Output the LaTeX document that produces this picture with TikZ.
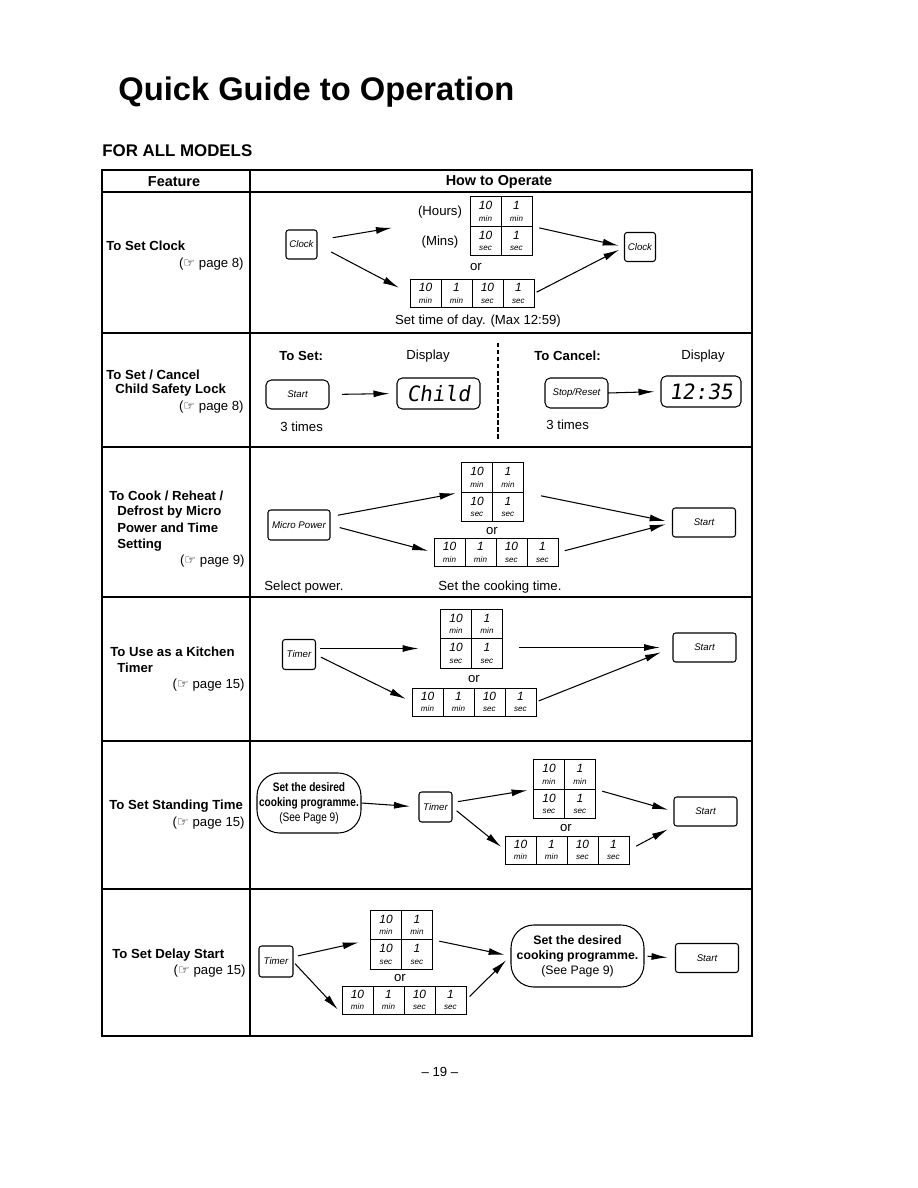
\documentclass[tikz,border=0pt]{standalone}
\usepackage{fontspec}
\setmainfont{Liberation Sans}
\newfontfamily\symfont{DejaVu Sans}
\newfontfamily\lcdfont{DejaVu Sans Mono}[FakeSlant=0.15]
\newfontfamily\narrowfont{Liberation Sans}[FakeStretch=0.82]
\usetikzlibrary{positioning, arrows.meta}

% key label: number over unit
\newcommand{\kl}[2]{{\fontsize{6.8}{6}\selectfont\itshape #1}\\[-2.5pt]{\fontsize{4.6}{5}\selectfont\itshape #2}}
\newcommand{\seepg}[1]{({\symfont\fontsize{7.5}{8}\selectfont ☞} page #1)}

% 2 x 2 block of time keys
\newcommand{\timegrid}[2]{%
\node[keycell] (#1a) at (#2) {\kl{10}{min}};
\node[keycell, right=0pt of #1a] (#1b) {\kl{1}{min}};
\node[keycell, below=0pt of #1a] (#1c) {\kl{10}{sec}};
\node[keycell, below=0pt of #1b] (#1d) {\kl{1}{sec}};}

% row of four time keys
\newcommand{\timestrip}[2]{%
\node[keycell, minimum height=0.56cm] (#1a) at (#2) {\kl{10}{min}};
\node[keycell, minimum height=0.56cm, right=0pt of #1a] (#1b) {\kl{1}{min}};
\node[keycell, minimum height=0.56cm, right=0pt of #1b] (#1c) {\kl{10}{sec}};
\node[keycell, minimum height=0.56cm, right=0pt of #1c] (#1d) {\kl{1}{sec}};}

\begin{document}
\begin{tikzpicture}[x=0.02cm, y=-0.02cm, line width=0.6pt,
  font=\fontsize{7.5}{9}\selectfont,
  feat/.style={anchor=west, font=\fontsize{7.5}{9}\selectfont\bfseries},
  key/.style={draw, rounded corners=1.5pt, inner sep=0pt, outer sep=0pt,
    minimum width=0.62cm, minimum height=0.58cm,
    font=\fontsize{5.5}{6}\selectfont\itshape},
  keycell/.style={draw, minimum width=0.62cm, minimum height=0.59cm,
    inner sep=0pt, outer sep=0pt, align=center, line width=0.5pt},
  lcd/.style={draw, rounded corners=3pt, minimum height=0.62cm,
    font=\lcdfont\fontsize{12}{12}\selectfont},
  prog/.style={draw, rounded corners=13pt, align=center, inner sep=1pt,
    font=\fontsize{7}{8.5}\selectfont},
  arr/.style={-{Latex[length=3.2mm,width=1.4mm]}}]

\useasboundingbox (0,0) rectangle (918,1188);

\node[anchor=west, font=\fontsize{18.6}{20}\selectfont\bfseries] (title) at (112,92) {Quick Guide to Operation};
\node[anchor=west, font=\fontsize{9.6}{11}\selectfont\bfseries] (models) at (96,151) {FOR ALL MODELS};

% table
\draw (102,170) rectangle (752,1036);
\draw (250,170) -- (250,1036);
\foreach \y in {192,333,447,597,741,889}
  \draw (102,\y) -- (752,\y);
\node[font=\fontsize{8.2}{9}\selectfont\bfseries] (feathd) at (174,182) {Feature};
\node[font=\fontsize{8.2}{9}\selectfont\bfseries] (howhd) at (499,182) {How to Operate};

% clock
\node[feat] (f1a) at (100,246) {To Set Clock};
\node[anchor=east] (f1b) at (250,264) {\seepg{8}};
\node[key] (clk1) at (301.5,244.5) {Clock};
\node (hrs) at (440,212) {(Hours)};
\node (mins) at (440,242) {(Mins)};
\timegrid{g1}{485.5,211.5}
\node (or1) at (476,267) {or};
\timestrip{s1}{425.5,293.5}
\node (note1) at (478,321) {Set time of day. (Max 12:59)};
\node[key] (clk2) at (640,247) {Clock};
\draw[arr, shorten <=0.32cm, shorten >=0.4cm] (clk1.15) -- (hrs.south west);
\draw[arr, shorten <=0.32cm, shorten >=0.25cm] (clk1.east) -- (s1a.west);
\draw[arr, shorten <=0.15cm, shorten >=0.12cm] (g1b.south east) -- (clk2.west);
\draw[arr, shorten <=0.06cm, shorten >=0.12cm] (s1d.east) -- (clk2.west);

% child lock
\node[feat] (f2a) at (100,375) {To Set / Cancel};
\node[feat] (f2b) at (109,390) {Child Safety Lock};
\node[anchor=east] (f2c) at (250,407) {\seepg{8}};
\node[anchor=west, font=\fontsize{7.5}{9}\selectfont\bfseries] (set2) at (273,356) {To Set:};
\node (disp2a) at (428,356) {Display};
\draw[dash pattern=on 2.5pt off 1.5pt] (498,343) -- (498,440);
\node[anchor=west, font=\fontsize{7.5}{9}\selectfont\bfseries] (cancel2) at (528,356) {To Cancel:};
\node (disp2b) at (703,356) {Display};
\node[key, rounded corners=3pt, minimum width=1.26cm] (start2) at (297.5,394.5) {Start};
\node[lcd, minimum width=1.66cm] (child) at (438.5,393.5) {Child};
\node[key, rounded corners=3pt, minimum width=1.26cm, minimum height=0.6cm] (stop2) at (576.5,393) {Stop/Reset};
\node[lcd, minimum width=1.6cm] (clock2) at (701,391.5) {12:35};
\draw[arr, shorten <=0.26cm, shorten >=0.14cm] (start2.east) -- (child.west);
\draw[arr, shorten >=0.12cm] (stop2.east) -- (clock2.west);
\node[anchor=west] (times2a) at (274,427) {3 times};
\node[anchor=west] (times2b) at (540,425) {3 times};

% micro power
\node[feat] (f3a) at (103,496) {To Cook / Reheat /};
\node[feat] (f3b) at (111,512) {Defrost by Micro};
\node[feat] (f3c) at (111,528) {Power and Time};
\node[feat] (f3d) at (111,545) {Setting};
\node[anchor=east] (f3e) at (251,561) {\seepg{9}};
\node[key, minimum width=1.24cm, minimum height=0.6cm] (micro) at (299,525) {Micro Power};
\timegrid{g3}{477,477.5}
\node (or3) at (492,531) {or};
\timestrip{s3}{449.5,552.5}
\node[key, minimum width=1.26cm] (st3) at (704,522.5) {Start};
\node[anchor=west] (sel3) at (258,587) {Select power.};
\node[anchor=west] (cook3) at (432,587) {Set the cooking time.};
\draw[arr, shorten <=0.16cm, shorten >=0.12cm] (micro.15) -- (g3c.north west);
\draw[arr, shorten <=0.2cm, shorten >=0.12cm] (micro.east) -- (s3a.west);
\draw[arr, shorten <=0.36cm, shorten >=0.14cm] (g3b.south east) -- (st3.west);
\draw[arr, shorten <=0.14cm, shorten >=0.14cm] (s3d.east) -- (st3.west);

% kitchen timer
\node[feat] (f4a) at (104,652) {To Use as a Kitchen};
\node[feat] (f4b) at (111,668) {Timer};
\node[anchor=east] (f4c) at (251,685) {\seepg{15}};
\node[key, minimum width=0.66cm, minimum height=0.6cm] (tm4) at (299,654.5) {Timer};
\timegrid{g4}{456,624}
\node (or4) at (474,679) {or};
\timestrip{s4}{427.5,702}
\node[key, minimum width=1.26cm] (st4) at (704.5,647.5) {Start};
\draw[arr, shorten <=0.1cm, shorten >=0.44cm] (tm4.20) -- (tm4.20 -| g4c.west);
\draw[arr, shorten <=0.12cm, shorten >=0.14cm] (tm4.east) -- (s4a.west);
\draw[arr, shorten <=0.34cm, shorten >=0.26cm] (g4d.east |- st4.west) -- (st4.west);
\draw[arr, shorten <=0.06cm, shorten >=0.26cm] (s4d.east) -- (st4.west);

% standing time
\node[feat] (f5a) at (103,806) {To Set Standing Time};
\node[anchor=east] (f5b) at (251,823) {\seepg{15}};
\node[prog, minimum width=2.08cm, minimum height=1.2cm, font=\narrowfont\fontsize{7}{8.5}\selectfont] (prog5) at (309,803) {\textbf{Set the desired}\\\textbf{cooking programme.}\\(See Page 9)};
\node[key, minimum width=0.66cm, minimum height=0.6cm] (tm5) at (435.5,807) {Timer};
\timegrid{g5}{549,774.5}
\node (or5) at (566,828) {or};
\timestrip{s5}{520.5,850}
\node[key, minimum width=1.26cm] (st5) at (705.5,811.5) {Start};
\draw[arr, shorten >=0.18cm] (prog5.east) -- (tm5.west);
\draw[arr, shorten <=0.12cm, shorten >=0.12cm] (tm5.15) -- (g5c.north west);
\draw[arr, shorten <=0.12cm, shorten >=0.1cm] (tm5.east) -- (s5a.west);
\draw[arr, shorten <=0.14cm, shorten >=0.12cm] (g5b.south east) -- (st5.west);
\draw[arr, shorten <=0.16cm, shorten >=0.14cm] (s5d.east) -- (st5.south west);

% delay start
\node[feat] (f6a) at (106,955) {To Set Delay Start};
\node[anchor=east] (f6b) at (252,971) {\seepg{15}};
\node[key, minimum width=0.68cm, minimum height=0.62cm] (tm6) at (276,961.5) {Timer};
\timegrid{g6}{386,925}
\node (or6) at (400,978) {or};
\timestrip{s6}{357.5,1000}
\node[prog, minimum width=2.66cm, minimum height=1.24cm] (prog6) at (577.5,956) {\textbf{Set the desired}\\\textbf{cooking programme.}\\(See Page 9)};
\node[key, minimum width=1.26cm] (st6) at (707,958) {Start};
\draw[arr, shorten <=0.1cm, shorten >=0.24cm] (tm6.15) -- (g6c.north west);
\draw[arr, shorten <=0.06cm, shorten >=0.12cm] (tm6.east) -- (s6a.south west);
\draw[arr, shorten <=0.14cm, shorten >=0.12cm] (g6b.south east) -- (prog6.west);
\draw[arr, shorten <=0.1cm, shorten >=0.12cm] (s6d.east) -- (prog6.west);
\draw[arr, shorten <=0.06cm, shorten >=0.16cm] (prog6.east) -- (st6.west);

\node (pgno) at (440,1072) {-- 19 --};

\end{tikzpicture}
\end{document}
